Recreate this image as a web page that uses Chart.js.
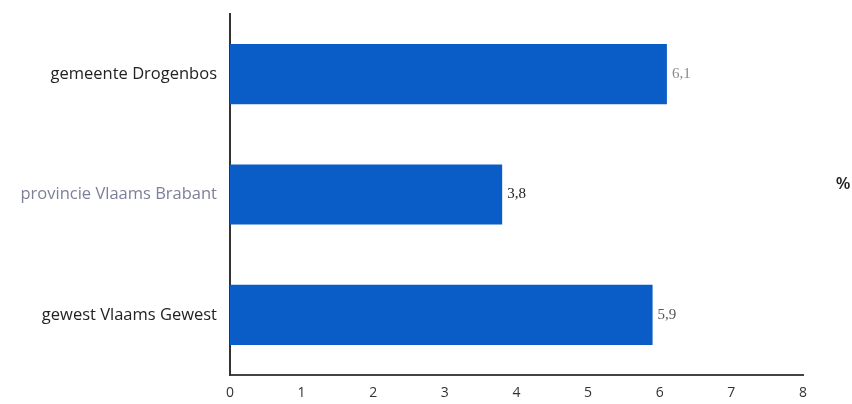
<!DOCTYPE html>
<html><head><meta charset="utf-8">
<script src="https://cdn.jsdelivr.net/npm/chart.js@4"></script>
<style>html,body{margin:0;padding:0;background:#fff}#w{width:852px;height:404px;position:relative}</style>
</head><body><div id="w"><canvas id="c" width="852" height="404"></canvas></div>
<script>
const categories = ["gemeente Drogenbos", "provincie Vlaams Brabant", "gewest Vlaams Gewest"];
const values = [6.1, 3.8, 5.9];
const valueLabels = ["6,1", "3,8", "5,9"];
const xTicks = [0, 1, 2, 3, 4, 5, 6, 7, 8];
const unitLabel = "%";

const labelColors = ["#222", "#7d8099", "#222"];
const valueColors = ["#8a8a8a", "#222", "#555"];

const extras = {
  id: 'extras',
  afterDatasetsDraw(chart) {
    const ctx = chart.ctx;
    const meta = chart.getDatasetMeta(0);
    ctx.save();
    ctx.font = '15px "Liberation Serif", serif';
    ctx.textBaseline = 'middle';
    ctx.textAlign = 'left';
    meta.data.forEach((bar, i) => {
      ctx.fillStyle = valueColors[i];
      ctx.fillText(valueLabels[i], bar.x + 5, bar.y);
    });
    ctx.fillStyle = '#222';
    ctx.font = '600 17px "Open Sans", sans-serif';
    ctx.textAlign = 'center';
    ctx.fillText(unitLabel, 843, 184);
    ctx.restore();
  }
};

new Chart(document.getElementById('c'), {
  type: 'bar',
  data: {
    labels: categories,
    datasets: [{
      data: values,
      backgroundColor: '#0a5dc6',
      borderWidth: 0,
      barPercentage: 0.5,
      categoryPercentage: 1.0
    }]
  },
  options: {
    indexAxis: 'y',
    responsive: false,
    animation: false,
    layout: { padding: { top: 14, right: 49, left: 0, bottom: 0 } },
    plugins: { legend: { display: false }, tooltip: { enabled: false } },
    scales: {
      x: {
        min: 0, max: 8,
        afterBuildTicks(s) { s.ticks = xTicks.map(v => ({ value: v })); },
        grid: { display: false, drawTicks: false },
        border: { display: true, color: '#444', width: 2 },
        ticks: { color: '#333', padding: 10, font: { family: '"Open Sans", sans-serif', size: 14 } },
        afterFit(s) { s.height = 29; }
      },
      y: {
        grid: { display: false, drawTicks: false },
        border: { display: true, color: '#333', width: 2 },
        ticks: {
          padding: 13,
          color: (c) => labelColors[c.index],
          font: { family: '"Open Sans", sans-serif', size: 16.5 }
        },
        afterFit(s) { s.width = 230; s.paddingTop = 0; s.paddingBottom = 0; }
      }
    }
  },
  plugins: [extras]
});
</script>
</body></html>
